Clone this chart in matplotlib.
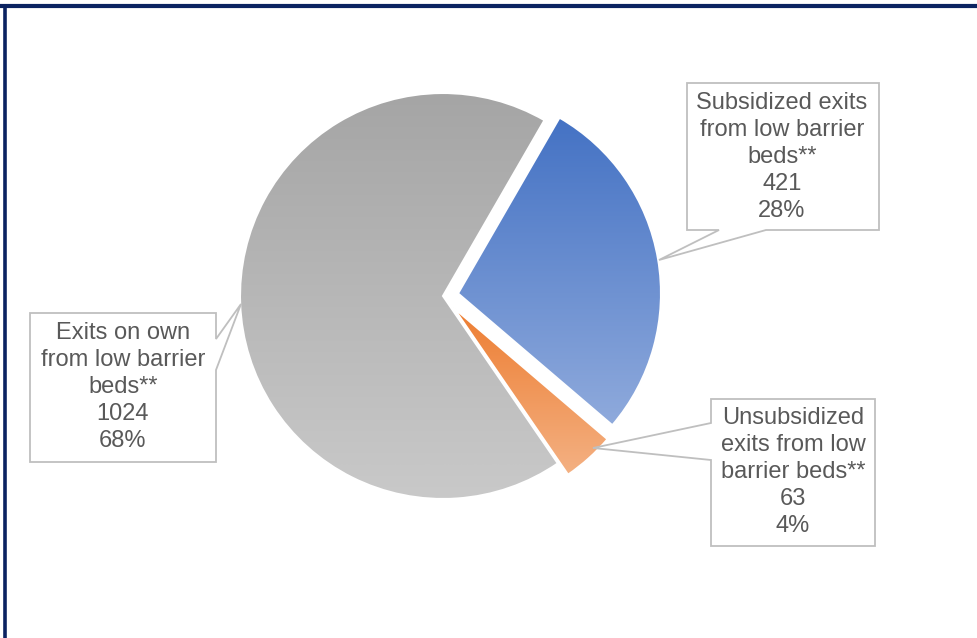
import numpy as np
import matplotlib
matplotlib.use("Agg")
import matplotlib.pyplot as plt
from matplotlib.colors import LinearSegmentedColormap
from matplotlib.patches import Polygon
from matplotlib.lines import Line2D
import matplotlib.transforms as mtransforms

# data (Excel order, first slice starts at 30 deg clockwise from 12 o'clock)
labels = ["Subsidized exits\nfrom low barrier\nbeds**",
          "Unsubsidized\nexits from low\nbarrier beds**",
          "Exits on own\nfrom low barrier\nbeds**"]
counts = [421, 63, 1024]
top_colors = ["#4472C4", "#ED7D31", "#A5A5A5"]
bottom_colors = ["#8FAADC", "#F4B183", "#C9C9C9"]
explode = [0.075, 0.075, 0.0]

W, H = 977, 638
fig = plt.figure(figsize=(W / 100, H / 100), dpi=100)
ax = fig.add_axes([0, 0, 1, 1])

# pie centre at (443, 296) px, radius 203 px
cx, cy, r = 443, 296, 203

wedges, _ = ax.pie(counts, startangle=60, counterclock=False, explode=explode,
                   wedgeprops=dict(facecolor="none", edgecolor="white", linewidth=1.5))
ax.axis("off")

# vertical gradient fill for each wedge
for w, c0, c1 in zip(wedges, top_colors, bottom_colors):
    cmap = LinearSegmentedColormap.from_list("g", [c0, c1])
    path = w.get_path()
    bb = path.get_extents(w.get_patch_transform())
    grad = np.linspace(0, 1, 256).reshape(-1, 1)
    im = ax.imshow(grad, cmap=cmap, aspect="auto", interpolation="bicubic",
                   extent=[bb.x0, bb.x1, bb.y0, bb.y1], origin="upper", zorder=1)
    im.set_clip_path(w)
    w.set_zorder(2)
ax.set_xlim(-cx / r, (W - cx) / r)
ax.set_ylim(-(H - cy) / r, cy / r)
ax.set_aspect("auto")

# pixel coordinates (origin top-left)
px = mtransforms.Affine2D().scale(1 / W, -1 / H).translate(0, 1) + fig.transFigure

total = sum(counts)
callouts = [
    # box outline incl. tail, text centre
    ([(687, 83), (879, 83), (879, 230), (766, 230), (659, 260), (719, 230), (687, 230)], (782, 157)),
    ([(711, 399), (875, 399), (875, 546), (711, 546), (711, 460), (593, 448), (711, 423)], (793, 472)),
    ([(30, 313), (216, 313), (216, 339), (241, 304), (216, 370), (216, 462), (30, 462)], (123, 387)),
]
for (verts, (tx, ty)), lab, n in zip(callouts, labels, counts):
    ax.add_patch(Polygon(verts, closed=True, facecolor="white", edgecolor="#BFBFBF",
                         linewidth=1.3, transform=px, zorder=3))
    pct = round(100 * n / total)
    ax.text(tx, ty, f"{lab}\n{n}\n{pct}%", transform=px, ha="center", va="center",
            fontsize=17, family="Liberation Sans", color="#595959",
            linespacing=1.28, zorder=4)

# dark navy frame (top and left edges only visible)
fig.add_artist(Line2D([0, W], [6, 6], color="#0B2361", linewidth=3, transform=px))
fig.add_artist(Line2D([5, 5], [6, H], color="#0B2361", linewidth=2.6, transform=px))

fig.savefig("out.png", dpi=100)
